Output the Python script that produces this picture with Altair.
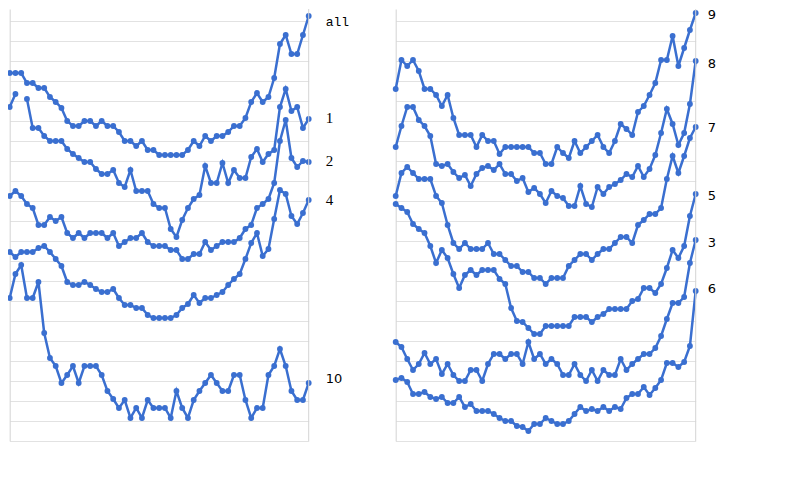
import altair as alt
import pandas as pd

BLUE = "#3a6fd0"

# ---- left column series ----
s_all = [368, 368, 368, 358, 358, 353, 353, 344, 339, 333, 320, 315, 315, 320, 320, 315, 320, 315, 315, 309,
         300, 300, 295, 300, 291, 291, 286, 286, 286, 286, 286, 291, 300, 295, 305, 300, 305, 305, 309, 315,
         315, 323, 339, 348, 339, 344, 363, 397, 406, 387, 387, 406, 425]
s_1 = [334, 347, None, 342, 313, 313, 305, 300, 300, 300, 292, 287, 283, 279, 279, 272, 267, 267, 271, 258,
       254, 271, 250, 250, 250, 237, 233, 233, 212, 204, 221, 233, 242, 246, 275, 258, 258, 278, 258, 271,
       263, 263, 284, 292, 279, 287, 291, 334, 352, 330, 334, 313, 322]
s_2 = [245, 250, 245, 237, 233, 216, 216, 224, 220, 224, 208, 203, 208, 203, 208, 208, 208, 203, 208, 195,
       199, 203, 203, 208, 199, 195, 195, 195, 191, 191, 182, 182, 187, 187, 199, 191, 195, 199, 199, 199,
       203, 212, 216, 233, 237, 242, 258, 300, 321, 283, 274, 280, 279]
s_4 = [189, 184, 189, 189, 189, 193, 195, 189, 182, 175, 159, 156, 156, 159, 156, 152, 149, 149, 152, 143,
       136, 136, 133, 133, 126, 123, 123, 123, 123, 126, 133, 137, 146, 138, 143, 143, 146, 149, 156, 162,
       167, 182, 198, 208, 185, 192, 222, 251, 247, 225, 217, 228, 241]
s_10 = [143, 167, 176, 143, 143, 159, 108, 83, 75, 58, 66, 75, 58, 75, 75, 75, 66, 50, 42, 33,
        41, 23, 33, 23, 41, 33, 33, 33, 23, 50, 33, 23, 41, 50, 58, 66, 58, 50, 50, 66,
        66, 41, 23, 33, 33, 66, 75, 92, 75, 50, 41, 41, 58]

# ---- right column series ----
s_9 = [352, 381, 375, 381, 370, 352, 352, 346, 335, 346, 323, 306, 306, 306, 294, 306, 300, 300, 287, 294,
       294, 294, 294, 294, 288, 288, 277, 277, 294, 288, 283, 300, 288, 294, 300, 306, 294, 288, 300, 317,
       312, 306, 329, 335, 346, 358, 381, 381, 405, 375, 393, 411, 428]
s_8 = [294, 315, 334, 334, 321, 315, 305, 277, 275, 277, 269, 263, 266, 255, 267, 273, 275, 271, 277, 267,
       267, 260, 263, 249, 253, 247, 238, 250, 245, 243, 235, 235, 255, 237, 234, 254, 247, 254, 257, 261,
       267, 264, 275, 264, 272, 286, 308, 332, 317, 296, 308, 337, 380]
s_7 = [245, 268, 274, 268, 262, 262, 262, 245, 238, 216, 198, 192, 198, 192, 192, 192, 198, 187, 187, 181,
       175, 175, 169, 169, 163, 163, 157, 163, 163, 163, 175, 181, 187, 187, 181, 187, 192, 192, 198, 204,
       204, 198, 216, 221, 227, 227, 233, 262, 285, 268, 285, 303, 314]
s_5 = [237, 233, 229, 217, 212, 208, 195, 178, 191, 183, 167, 153, 166, 171, 166, 171, 171, 171, 162, 157,
       133, 120, 119, 113, 107, 107, 115, 115, 115, 115, 115, 124, 124, 124, 119, 124, 127, 132, 132, 132,
       132, 140, 142, 153, 153, 148, 157, 173, 191, 183, 195, 225, 247]
s_3 = [99, 94, 82, 71, 77, 88, 77, 82, 67, 77, 66, 60, 60, 71, 71, 60, 77, 87, 87, 82,
       87, 87, 77, 99, 82, 87, 77, 82, 77, 66, 66, 77, 66, 60, 71, 60, 71, 66, 66, 82,
       71, 77, 82, 87, 87, 93, 105, 122, 138, 138, 144, 178, 201]
s_6 = [61, 63, 59, 47, 47, 49, 44, 42, 44, 38, 38, 44, 34, 37, 30, 30, 30, 27, 23, 20,
       20, 15, 14, 10, 17, 17, 23, 20, 17, 17, 20, 27, 34, 30, 32, 30, 34, 30, 34, 32,
       43, 47, 47, 54, 46, 53, 61, 78, 78, 74, 79, 95, 150]

left_names = ["all", "1", "2", "4", "10"]
left_values = [s_all, s_1, s_2, s_4, s_10]
left_label_v = [419, 323, 280, 241, 62]
left_label_font = ["Liberation Mono", "Liberation Serif", "Liberation Serif", "Liberation Serif", "DejaVu Sans"]

right_names = ["9", "8", "7", "5", "3", "6"]
right_values = [s_9, s_8, s_7, s_5, s_3, s_6]
right_label_v = [426, 377, 313, 245, 198, 152]
right_label_font = ["DejaVu Sans"] * 6

FONT_SIZE = {"Liberation Mono": 13, "Liberation Serif": 15, "DejaVu Sans": 13}


def series_df(names, values):
    rows = []
    for n, vals in zip(names, values):
        for i, v in enumerate(vals):
            rows.append({"series": n, "i": i, "v": v})
    return pd.DataFrame(rows)


def panel(names, values, label_v, fonts, width, dx):
    n_last = len(values[0]) - 1
    df = series_df(names, values)
    x = alt.X("i:Q", scale=alt.Scale(domain=[0, n_last], nice=False, zero=False), axis=None)
    y = alt.Y("v:Q", scale=alt.Scale(domain=[0, 432], nice=False),
              axis=alt.Axis(grid=True, gridColor="#e2e2e2", gridWidth=1, labels=False,
                            ticks=False, domain=True, domainColor="#d4d4d4", title=None,
                            tickCount=20, minExtent=0))
    base = alt.Chart(df)
    line = base.mark_line(color=BLUE, strokeWidth=2.5).encode(x=x, y=y, detail="series:N")
    pts = base.mark_circle(color=BLUE, size=34, opacity=1).encode(x=x, y=y, detail="series:N")
    edge_df = pd.DataFrame({"i": [n_last]})
    edge = alt.Chart(edge_df).mark_rule(color="#d4d4d4", strokeWidth=1).encode(
        x="i:Q", y=alt.datum(0), y2=alt.datum(432))
    layers = [line, pts, edge]
    for f in sorted(set(fonts)):
        sel = [k for k, ff in enumerate(fonts) if ff == f]
        ldf = pd.DataFrame({"series": [names[k] for k in sel],
                            "i": [n_last] * len(sel),
                            "v": [label_v[k] for k in sel]})
        layers.append(
            alt.Chart(ldf).mark_text(
                align="left", baseline="middle", dx=dx, fontSize=FONT_SIZE[f], font=f, color="black"
            ).encode(x="i:Q", y="v:Q", text="series:N")
        )
    return alt.layer(*layers).properties(width=width, height=432)


left = panel(left_names, left_values, left_label_v, left_label_font, 299, 17)
right = panel(right_names, right_values, right_label_v, right_label_font, 300, 12)

chart = alt.HConcatChart(
    hconcat=[left, right], spacing=87, bounds="flush",
    padding={"left": -3.3, "top": 0, "right": 0, "bottom": 0},
).configure_view(stroke=None)

chart.save("out.html", embed_options={"renderer": "svg", "actions": False})
